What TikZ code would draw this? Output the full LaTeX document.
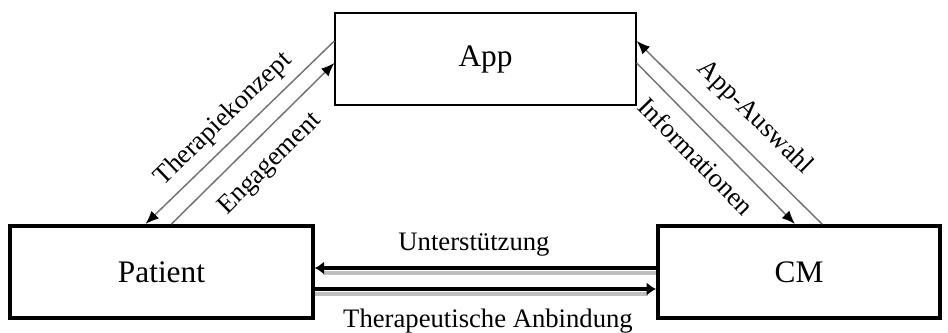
\documentclass[tikz,border=0pt]{standalone}
\usepackage{fontspec}
\setmainfont{Liberation Serif}
\usetikzlibrary{arrows.meta,calc}
\begin{document}
\begin{tikzpicture}[x=0.75pt,y=-0.75pt,
	thinbox/.style={draw,line width=1pt,minimum height=69pt,font=\fontsize{23.5}{28}\selectfont},
	thickbox/.style={draw,line width=3pt,minimum height=69pt,font=\fontsize{23.5}{28}\selectfont},
	flow/.style={draw=black!55,line width=1.1pt,-{Latex[length=10pt,width=8pt,color=black]}},
	backflow/.style={draw=black!55,line width=1.1pt,{Latex[length=10pt,width=8pt,color=black]}-},
	strong/.style={line width=3.5pt,-{Latex[length=7pt,width=10pt]}},
	shade/.style={black!25,line width=3pt},
	lbl/.style={font=\fontsize{20}{24}\selectfont,inner sep=2pt}]
	\useasboundingbox (0,0) rectangle (948,332);
	% boxes
	\node[thinbox,minimum width=225.75pt] (app) at (485.5,59) {App};
	\node[thickbox,minimum width=227pt] (patient) at (161.5,272) {Patient};
	\node[thickbox,minimum width=211.5pt] (cm) at (799,272) {CM};
	% app <-> patient
	\draw[backflow] ($(patient.north)+(-16,0)$) -- ($(app.west)+(0,-18)$)
		node[lbl,pos=0.49,sloped,above=4pt] (konzept) {Therapiekonzept};
	\draw[flow] ($(patient.north)+(10,0)$) -- ($(app.west)+(0,4)$)
		node[lbl,pos=0.49,sloped,below=9pt] (engage) {Engagement};
	% app <-> cm
	\draw[backflow] ($(app.east)+(0,-18)$) -- ($(cm.north)+(23,0)$)
		node[lbl,pos=0.53,sloped,above=9.5pt] (auswahl) {App-Auswahl};
	\draw[flow] ($(app.east)+(0,4)$) -- ($(cm.north)+(-4,0)$)
		node[lbl,pos=0.48,sloped,below=7.5pt] (info) {Informationen};
	% patient <-> cm
	\draw[shade] ($(cm.west)+(0,1)$) -- ($(patient.east)+(8,1)$);
	\draw[shade] ($(patient.east)+(0,22)$) -- ($(cm.west)+(-8,22)$);
	\draw[strong] ($(cm.west)+(0,-4)$) -- ($(patient.east)+(0,-4)$);
	\draw[strong] ($(patient.east)+(0,17)$) -- ($(cm.west)+(0,17)$);
	\node[lbl,anchor=base] (support) at (474,250) {Unterstützung};
	\node[lbl,anchor=base] (bond) at (488,327) {Therapeutische Anbindung};
\end{tikzpicture}
\end{document}
